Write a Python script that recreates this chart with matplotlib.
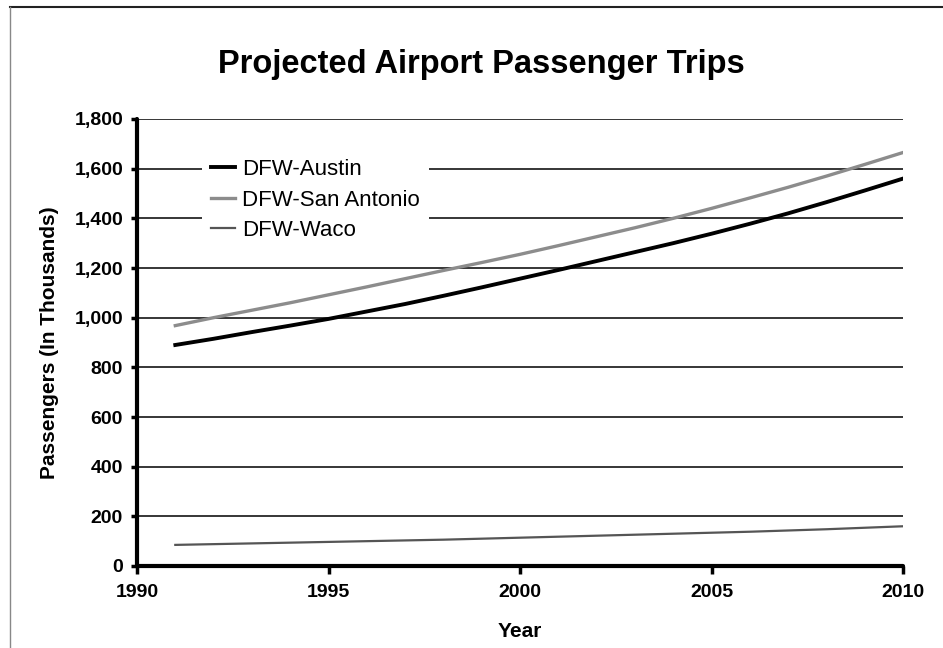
import matplotlib
matplotlib.use('Agg')
import matplotlib.pyplot as plt
from matplotlib.lines import Line2D
from matplotlib.ticker import FuncFormatter

# 数据（从图上读取，单位：千人次）
years = list(range(1991, 2011))
austin = [890, 915, 942, 968, 995, 1025, 1055, 1088, 1122, 1157,
          1192, 1228, 1264, 1300, 1338, 1378, 1420, 1465, 1512, 1560]
san_antonio = [968, 1000, 1030, 1060, 1092, 1124, 1157, 1190, 1222, 1255,
               1290, 1326, 1362, 1400, 1440, 1482, 1525, 1570, 1617, 1665]
waco = [85, 88, 91, 94, 97, 100, 103, 106, 110, 114,
        118, 122, 126, 130, 134, 138, 143, 148, 154, 160]
series_names = ['DFW-Austin', 'DFW-San Antonio', 'DFW-Waco']
x_ticks = [1990, 1995, 2000, 2005, 2010]
y_ticks = list(range(0, 2000, 200))

plt.rcParams['font.family'] = ['Liberation Sans', 'DejaVu Sans']

fig = plt.figure(figsize=(9.43, 6.48), dpi=100)
ax = fig.add_axes([137 / 943, 1 - 566 / 648, 766 / 943, 447 / 648])

# 网格线
for v in y_ticks[1:]:
    ax.axhline(v, color='black', lw=1.1, zorder=1)

ax.plot(years, austin, color='black', lw=2.8, label=series_names[0], zorder=3)
ax.plot(years, san_antonio, color='#8c8c8c', lw=2.4, label=series_names[1], zorder=3)
ax.plot(years, waco, color='#555555', lw=1.6, label=series_names[2], zorder=3)

ax.set_xlim(1990, 2010)
ax.set_ylim(0, 1800)
ax.set_xticks(x_ticks)
ax.set_yticks(y_ticks)
ax.yaxis.set_major_formatter(FuncFormatter(lambda v, p: f'{int(v):,}'))

for s in ['top', 'right']:
    ax.spines[s].set_visible(False)
for s in ['left', 'bottom']:
    ax.spines[s].set_linewidth(3)
    ax.spines[s].set_capstyle('round')

ax.tick_params(axis='y', direction='out', length=4, width=2.5, pad=6)
ax.tick_params(axis='x', direction='out', length=6, width=2.5, pad=7)
for lab in ax.get_xticklabels() + ax.get_yticklabels():
    lab.set_fontsize(14)
    lab.set_fontweight('bold')

ax.set_xlabel('Year', fontsize=15, fontweight='bold', labelpad=15)
ax.set_ylabel('Passengers (In Thousands)', fontsize=15, fontweight='bold', labelpad=11)

leg = ax.legend(loc='upper left', bbox_to_anchor=(0.085, 0.93), fontsize=16,
                frameon=True, facecolor='white', edgecolor='none', framealpha=1,
                fancybox=False, handlelength=1.1, handletextpad=0.3,
                labelspacing=0.42, borderpad=0.4, borderaxespad=0)
leg.set_zorder(2)

fig.text(481 / 943, 1 - 65 / 648, 'Projected Airport Passenger Trips',
         ha='center', va='center', fontsize=23.5, fontweight='bold')

# 外框
fig.add_artist(Line2D([10 / 943, 1], [1 - 7 / 648, 1 - 7 / 648], color='#222222', lw=1.5))
fig.add_artist(Line2D([10 / 943, 10 / 943], [0, 1 - 7 / 648], color='#888888', lw=1))

plt.savefig('out.png', dpi=100)
plt.close()
